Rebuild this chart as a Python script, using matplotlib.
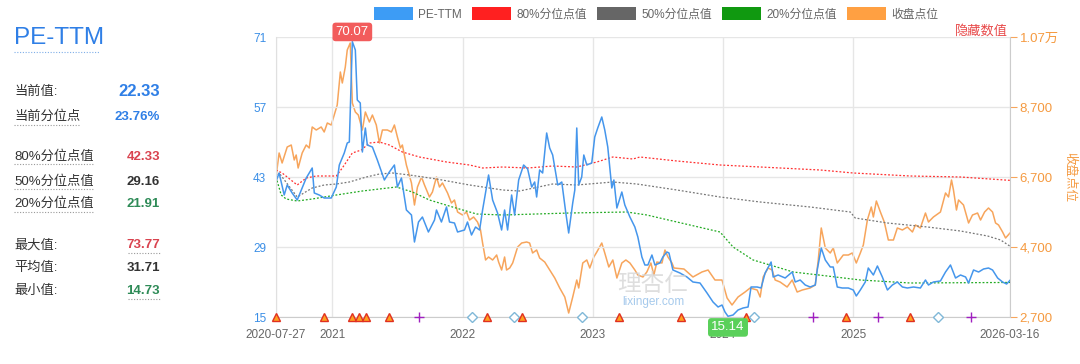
import matplotlib
matplotlib.use("Agg")
import matplotlib.pyplot as plt
from matplotlib.patches import Patch
from matplotlib.lines import Line2D

# Fonts: latin first, CJK as fallback.
plt.rcParams['font.family'] = ['Liberation Sans', 'Noto Sans CJK SC', 'DejaVu Sans']

# Step 1: data (x is decimal year).
pe_years = [2020.568, 2020.592, 2020.631, 2020.654, 2020.692, 2020.731, 2020.762, 2020.800, 2020.846, 2020.862,
            2020.900, 2020.938, 2020.992, 2021.031, 2021.054, 2021.092, 2021.115, 2021.131, 2021.154, 2021.177,
            2021.192, 2021.215, 2021.231, 2021.254, 2021.269, 2021.308, 2021.346, 2021.400, 2021.438, 2021.477,
            2021.500, 2021.531, 2021.569, 2021.608, 2021.631, 2021.662, 2021.692, 2021.738, 2021.785, 2021.800,
            2021.838, 2021.877, 2021.900, 2021.938, 2021.962, 2022.015, 2022.038, 2022.069, 2022.100, 2022.131,
            2022.154, 2022.200, 2022.231, 2022.269, 2022.300, 2022.323, 2022.346, 2022.377, 2022.400, 2022.431,
            2022.469, 2022.500, 2022.531, 2022.554, 2022.569, 2022.592, 2022.615, 2022.646, 2022.669, 2022.692,
            2022.731, 2022.762, 2022.792, 2022.815, 2022.846, 2022.862, 2022.877, 2022.892, 2022.915, 2022.931,
            2022.954, 2022.992, 2023.015, 2023.038, 2023.069, 2023.092, 2023.115, 2023.146, 2023.162, 2023.185,
            2023.223, 2023.246, 2023.285, 2023.323, 2023.346, 2023.377, 2023.400, 2023.423, 2023.454, 2023.477,
            2023.515, 2023.538, 2023.569, 2023.585, 2023.615, 2023.669, 2023.723, 2023.769, 2023.823, 2023.877,
            2023.923, 2023.962, 2023.992, 2024.015, 2024.038, 2024.077, 2024.115, 2024.154, 2024.192, 2024.215,
            2024.262, 2024.292, 2024.323, 2024.369, 2024.385, 2024.423, 2024.477, 2024.531, 2024.554, 2024.592,
            2024.631, 2024.669, 2024.708, 2024.723, 2024.754, 2024.785, 2024.823, 2024.846, 2024.877, 2024.915,
            2024.962, 2025.000, 2025.023, 2025.054, 2025.092, 2025.115, 2025.154, 2025.185, 2025.223, 2025.262,
            2025.300, 2025.338, 2025.377, 2025.415, 2025.462, 2025.515, 2025.554, 2025.577, 2025.615, 2025.669,
            2025.708, 2025.746, 2025.785, 2025.823, 2025.862, 2025.885, 2025.923, 2025.962, 2026.000, 2026.038,
            2026.069, 2026.108, 2026.146, 2026.177, 2026.203]
pe_values = [42.1, 43.8, 39.4, 41.4, 39.8, 38.4, 40.4, 42.8, 44.8, 39.8,
             39.4, 38.8, 38.8, 41.0, 45.4, 47.8, 49.8, 50.0, 70.07, 68.4,
             58.4, 57.8, 48.0, 52.8, 49.4, 49.0, 46.4, 42.4, 44.0, 45.4,
             41.0, 42.8, 36.4, 35.4, 30.0, 34.0, 35.0, 32.0, 34.4, 36.4,
             34.0, 37.0, 34.0, 33.8, 32.0, 32.4, 34.0, 31.4, 33.0, 32.4,
             36.4, 43.4, 38.4, 35.8, 32.4, 36.4, 32.4, 39.4, 35.4, 42.4,
             45.4, 44.6, 41.0, 42.0, 39.0, 44.4, 43.8, 51.8, 48.8, 47.4,
             41.4, 42.0, 36.0, 31.8, 37.8, 40.4, 52.8, 41.4, 43.0, 47.4,
             45.4, 45.8, 51.0, 52.8, 55.0, 52.4, 49.0, 40.8, 42.4, 36.8,
             40.0, 37.4, 35.0, 33.0, 31.0, 27.0, 25.4, 25.4, 27.4, 25.4,
             25.8, 27.0, 28.0, 27.8, 24.4, 23.8, 23.0, 22.0, 21.8, 19.8,
             18.0, 17.0, 17.4, 16.0, 15.14, 15.4, 16.4, 16.8, 17.0, 21.0,
             21.0, 20.8, 23.8, 26.0, 23.0, 23.4, 22.8, 24.0, 22.0, 22.4,
             21.4, 21.0, 21.4, 24.4, 28.8, 26.4, 25.0, 25.0, 21.0, 20.8,
             20.8, 20.4, 19.2, 20.4, 22.0, 24.8, 23.4, 25.2, 23.0, 20.4,
             21.4, 22.0, 21.0, 20.8, 21.0, 20.8, 22.4, 21.4, 22.0, 22.2,
             24.0, 25.4, 22.8, 23.4, 23.0, 21.8, 24.4, 24.0, 24.6, 24.8,
             24.4, 22.8, 22.0, 21.6, 22.33]

close_years = [2020.568, 2020.592, 2020.615, 2020.654, 2020.685, 2020.708, 2020.723, 2020.738, 2020.769, 2020.800,
               2020.823, 2020.846, 2020.877, 2020.915, 2020.938, 2020.962, 2020.992, 2021.015, 2021.038, 2021.062,
               2021.077, 2021.100, 2021.115, 2021.138, 2021.154, 2021.177, 2021.200, 2021.231, 2021.254, 2021.285,
               2021.308, 2021.338, 2021.362, 2021.385, 2021.423, 2021.454, 2021.477, 2021.500, 2021.523, 2021.538,
               2021.569, 2021.608, 2021.631, 2021.654, 2021.685, 2021.708, 2021.746, 2021.769, 2021.800, 2021.823,
               2021.846, 2021.885, 2021.915, 2021.938, 2021.962, 2022.000, 2022.031, 2022.054, 2022.085, 2022.115,
               2022.138, 2022.154, 2022.177, 2022.200, 2022.231, 2022.262, 2022.277, 2022.300, 2022.323, 2022.338,
               2022.362, 2022.385, 2022.423, 2022.454, 2022.492, 2022.515, 2022.538, 2022.569, 2022.592, 2022.631,
               2022.669, 2022.708, 2022.746, 2022.785, 2022.815, 2022.846, 2022.877, 2022.892, 2022.923, 2022.954,
               2022.977, 2023.008, 2023.031, 2023.069, 2023.092, 2023.123, 2023.154, 2023.185, 2023.223, 2023.254,
               2023.285, 2023.323, 2023.346, 2023.385, 2023.415, 2023.446, 2023.469, 2023.492, 2023.531, 2023.554,
               2023.577, 2023.608, 2023.623, 2023.700, 2023.769, 2023.838, 2023.885, 2023.938, 2023.992, 2024.031,
               2024.069, 2024.115, 2024.169, 2024.208, 2024.262, 2024.285, 2024.308, 2024.346, 2024.377, 2024.400,
               2024.438, 2024.492, 2024.531, 2024.569, 2024.608, 2024.669, 2024.708, 2024.731, 2024.754, 2024.785,
               2024.823, 2024.846, 2024.877, 2024.923, 2024.962, 2024.992, 2025.023, 2025.054, 2025.077, 2025.108,
               2025.138, 2025.154, 2025.177, 2025.208, 2025.238, 2025.269, 2025.308, 2025.338, 2025.377, 2025.415,
               2025.454, 2025.477, 2025.515, 2025.554, 2025.577, 2025.615, 2025.669, 2025.708, 2025.731, 2025.754,
               2025.769, 2025.792, 2025.808, 2025.846, 2025.885, 2025.915, 2025.954, 2025.977, 2026.008, 2026.038,
               2026.069, 2026.092, 2026.115, 2026.146, 2026.169, 2026.203]
close_values = [6700, 7386, 7100, 7557, 7614, 7186, 7329, 6957, 7386, 7614,
                7529, 8129, 8043, 8129, 7986, 8243, 8186, 8471, 8757, 9700,
                9386, 9843, 10329, 10529, 8814, 8557, 8471, 8043, 8557, 8271,
                8471, 8186, 7671, 8043, 8043, 7986, 8186, 7843, 7529, 7614,
                7043, 6529, 5900, 6414, 6700, 6471, 6129, 6271, 6700, 6414,
                6529, 6243, 5957, 6043, 5700, 5614, 5700, 5471, 5557, 5414,
                5186, 4814, 4329, 4414, 4329, 4471, 4271, 4043, 4414, 4043,
                4100, 4243, 4700, 4814, 4843, 4814, 4529, 4614, 4386, 4271,
                4043, 3814, 3529, 3271, 2814, 3271, 3757, 3529, 4243, 4329,
                4100, 4414, 4557, 4814, 4529, 4129, 4329, 3814, 4243, 4329,
                4243, 4043, 3900, 3843, 3986, 4243, 3900, 4271, 4243, 4614,
                4414, 4243, 4100, 4071, 3843, 3986, 4043, 3757, 3757, 3243,
                3043, 3271, 3414, 3529, 3471, 3271, 3843, 4100, 4043, 3757,
                3700, 3557, 3757, 3414, 3471, 3529, 3614, 4329, 5243, 4671,
                4529, 4671, 4243, 4471, 4471, 4529, 4243, 4529, 4757, 5471,
                5843, 5557, 6014, 5700, 5414, 4900, 4900, 5243, 5186, 5271,
                5129, 5329, 5243, 5671, 5414, 5557, 5700, 6243, 6129, 6614,
                6329, 5757, 6043, 5900, 5386, 5614, 5671, 5471, 5700, 5814,
                5700, 5386, 5329, 5129, 4957, 5100]

p80_years = [2020.568, 2020.615, 2020.731, 2020.800, 2020.877, 2021.031, 2021.077, 2021.154, 2021.223, 2021.285,
             2021.362, 2021.438, 2021.538, 2021.669, 2021.877, 2022.054, 2022.154, 2022.308, 2022.500, 2022.692,
             2022.877, 2023.031, 2023.154, 2023.308, 2023.362, 2023.646, 2023.977, 2024.285, 2024.746, 2025.000,
             2025.438, 2025.823, 2026.203]
p80_values = [44.4, 43.8, 41.4, 42.8, 43.2, 43.2, 44.8, 47.8, 48.4, 49.8,
              50.0, 49.4, 48.0, 47.0, 46.0, 45.4, 44.8, 45.0, 44.8, 45.2,
              45.0, 46.0, 47.0, 46.6, 47.0, 46.2, 45.4, 45.0, 44.4, 43.8,
              43.2, 43.0, 42.33]

p50_years = [2020.568, 2020.592, 2020.731, 2020.846, 2020.938, 2021.031, 2021.131, 2021.262, 2021.362, 2021.462,
             2021.592, 2021.800, 2022.054, 2022.308, 2022.438, 2022.692, 2022.877, 2023.154, 2023.338, 2023.646,
             2023.977, 2024.285, 2024.669, 2024.977, 2025.015, 2025.262, 2025.569, 2025.823, 2026.031, 2026.131,
             2026.203]
p50_values = [42.8, 43.8, 39.0, 40.8, 41.4, 41.6, 42.0, 43.0, 43.6, 43.8,
              43.4, 42.6, 41.4, 40.4, 40.2, 41.6, 41.4, 42.0, 41.6, 40.4,
              39.0, 38.0, 37.0, 36.0, 34.8, 33.8, 33.0, 32.2, 31.2, 30.4,
              29.16]

p20_years = [2020.568, 2020.608, 2020.646, 2020.731, 2020.846, 2021.031, 2021.231, 2021.492, 2021.615, 2021.746,
             2021.923, 2022.108, 2022.308, 2022.823, 2023.262, 2023.415, 2023.646, 2023.977, 2024.077, 2024.231,
             2024.438, 2024.538, 2024.800, 2025.054, 2025.438, 2026.203]
p20_values = [43.0, 39.4, 38.6, 38.2, 38.6, 39.4, 40.2, 41.0, 40.0, 38.4,
              37.0, 35.6, 35.4, 35.8, 36.0, 35.4, 34.0, 32.0, 29.0, 26.4,
              24.8, 24.0, 23.2, 22.4, 21.8, 21.91]

# event markers on the bottom axis: 't' triangle, 'd' diamond, 'p' plus
event_years = [2020.568, 2020.938, 2021.154, 2021.208, 2021.262, 2021.438, 2021.662, 2022.069, 2022.185, 2022.392,
               2022.454, 2022.915, 2023.200, 2023.677, 2024.177, 2024.238, 2024.692, 2024.946, 2025.192, 2025.438,
               2025.654, 2025.900]
event_kinds = ['t', 't', 't', 't', 't', 't', 'p', 'd', 't', 'd',
               't', 'd', 't', 't', 't', 'd', 'p', 't', 'p', 't',
               'd', 'p']

xtick_pos = [2020.568, 2021, 2022, 2023, 2024, 2025, 2026.203]
xtick_labels = ['2020-07-27', '2021', '2022', '2023', '2024', '2025', '2026-03-16']
pe_ticks = [15, 29, 43, 57, 71]
close_ticks = [2700, 4700, 6700, 8700, 10700]

stat_labels = ['当前值:', '当前分位点', '80%分位点值', '50%分位点值', '20%分位点值', '最大值:', '平均值:', '最小值:']
stat_values = ['22.33', '23.76%', '42.33', '29.16', '21.91', '73.77', '31.71', '14.73']

BLUE = '#4596ec'
ORANGE = '#f7a55c'


def fx(px):
    return px / 1080


def fy(py):
    return 1 - py / 364


def close_fmt(v, pos):
    if v >= 10000:
        return f"{v / 10000:.2f}万"
    return f"{int(v):,}"


# Step 2: figure and axes
fig = plt.figure(figsize=(10.8, 3.64), dpi=100)
ax = fig.add_axes([fx(276), fy(317), fx(1010) - fx(276), fy(37) - fy(317)])
ax2 = ax.twinx()
ax.set_zorder(ax2.get_zorder() + 1)
ax.patch.set_visible(False)

ax.set_xlim(xtick_pos[0], xtick_pos[-1])
ax.set_ylim(15, 71)
ax2.set_ylim(2700, 10700)

# close price on the right axis
ax2.plot(close_years, close_values, color=ORANGE, lw=1.1)

# percentile lines and PE
dots = (0, (1.5, 1.5))
ax.plot(p80_years, p80_values, color='#ff3030', lw=0.9, linestyle=dots)
ax.plot(p50_years, p50_values, color='#777777', lw=0.9, linestyle=dots)
ax.plot(p20_years, p20_values, color='#22aa22', lw=0.9, linestyle=dots)
ax.plot(pe_years, pe_values, color=BLUE, lw=1.1)

# event markers
for yr, kind in zip(event_years, event_kinds):
    if kind == 't':
        ax.plot(yr, 15, marker='^', ms=6, mfc='#ffa020', mec='#e03020', mew=1, clip_on=False, zorder=5)
    elif kind == 'd':
        ax.plot(yr, 15, marker='D', ms=5, mfc='white', mec='#80b8d8', mew=1, clip_on=False, zorder=5)
    else:
        ax.plot(yr, 15, marker='+', ms=7, mec='#a020c0', mew=1, clip_on=False, zorder=5)

# max / min labels
i_max = pe_values.index(max(pe_values))
i_min = pe_values.index(min(pe_values))
ax.annotate(f"{pe_values[i_max]:.2f}", (pe_years[i_max], pe_values[i_max]), xytext=(0, 7),
            textcoords='offset points', ha='center', va='center', color='white', fontsize=9.5,
            bbox=dict(boxstyle='round,pad=0.25', fc='#f25c5c', ec='none'), annotation_clip=False, zorder=10)
ax.annotate(f"{pe_values[i_min]:.2f}", (pe_years[i_min], pe_values[i_min]), xytext=(0, -8),
            textcoords='offset points', ha='center', va='center', color='white', fontsize=9.5,
            bbox=dict(boxstyle='round,pad=0.25', fc='#5ad05a', ec='none'), annotation_clip=False, zorder=10)

# grid, ticks, spines
ax.set_xticks(xtick_pos)
ax.set_xticklabels(xtick_labels)
ax.set_yticks(pe_ticks)
ax.grid(True, color='#e6e6e6', lw=1)
ax.set_axisbelow(True)
ax.tick_params(axis='x', length=0, labelsize=8.5, labelcolor='#666666', pad=9)
ax.tick_params(axis='y', length=0, labelsize=8.5, labelcolor='#3a8ee6', pad=7)
for s in ['top', 'right']:
    ax.spines[s].set_visible(False)
ax.spines['left'].set_color('#e0e0e0')
ax.spines['bottom'].set_color('#cccccc')

ax2.set_yticks(close_ticks)
ax2.yaxis.set_major_formatter(plt.FuncFormatter(close_fmt))
ax2.tick_params(axis='y', length=5, color=ORANGE, labelcolor='#f59a40', labelsize=9.5, pad=2)
for s in ['top', 'left', 'bottom']:
    ax2.spines[s].set_visible(False)
ax2.spines['right'].set_color('#cccccc')
ax2.set_ylabel('收盘点位', color='#f59a40', fontsize=9, rotation=270, labelpad=12)

fig.text(fx(1008), fy(31), '隐藏数值', color='#e84a4a', fontsize=9.5, ha='right', va='center')

# legend
handles = [Patch(fc='#3d9cf5', ec='none'), Patch(fc='#ff2020', ec='none'), Patch(fc='#666666', ec='none'),
           Patch(fc='#109910', ec='none'), Patch(fc='#ffa042', ec='none')]
names = ['PE-TTM', '80%分位点值', '50%分位点值', '20%分位点值', '收盘点位']
fig.legend(handles, names, loc='center', bbox_to_anchor=(fx(656), fy(14)), ncol=5, frameon=False,
           fontsize=8.5, handlelength=3.3, handleheight=1.2, handletextpad=0.45, columnspacing=0.85,
           labelcolor='#666666')

# watermark
fig.text(fx(653), fy(285), '理杏仁', color='#d6d6d6', fontsize=17, ha='center', va='center', alpha=0.8)
fig.text(fx(653), fy(302), 'lixinger.com', color='#9cc4ea', fontsize=8.5, ha='center', va='center', alpha=0.9)

# Step 3: left stats panel
fig.text(fx(14), fy(38), 'PE-TTM', color='#2f7fe6', fontsize=17.5, ha='left', va='center')
fig.add_artist(Line2D([fx(14), fx(100)], [fy(52), fy(52)], color='#7faee8', lw=0.8, ls=(0, (1, 1.5))))

rows_y = [92, 117, 157, 182, 204, 245, 268, 291]
value_colors = ['#2f7fe6', '#2f7fe6', '#d9434f', '#333333', '#2e8b57', '#d9434f', '#333333', '#2e8b57']
for i, (lab, val) in enumerate(zip(stat_labels, stat_values)):
    fig.text(fx(14), fy(rows_y[i]), lab, color='#333333', fontsize=9.5, ha='left', va='center')
    fs = 12 if i == 0 else 9.5
    fig.text(fx(160), fy(rows_y[i]), val, color=value_colors[i], fontsize=fs, ha='right', va='center',
             fontweight='bold')

# dotted underlines below some labels and values
for py, x0, x1 in [(125, 14, 80), (164, 14, 94), (189, 14, 94), (212, 14, 94), (253, 128, 160), (299, 128, 160)]:
    fig.add_artist(Line2D([fx(x0), fx(x1)], [fy(py), fy(py)], color='#999999', lw=0.8, ls=(0, (1, 1.5))))

fig.savefig("out.png", dpi=100)
